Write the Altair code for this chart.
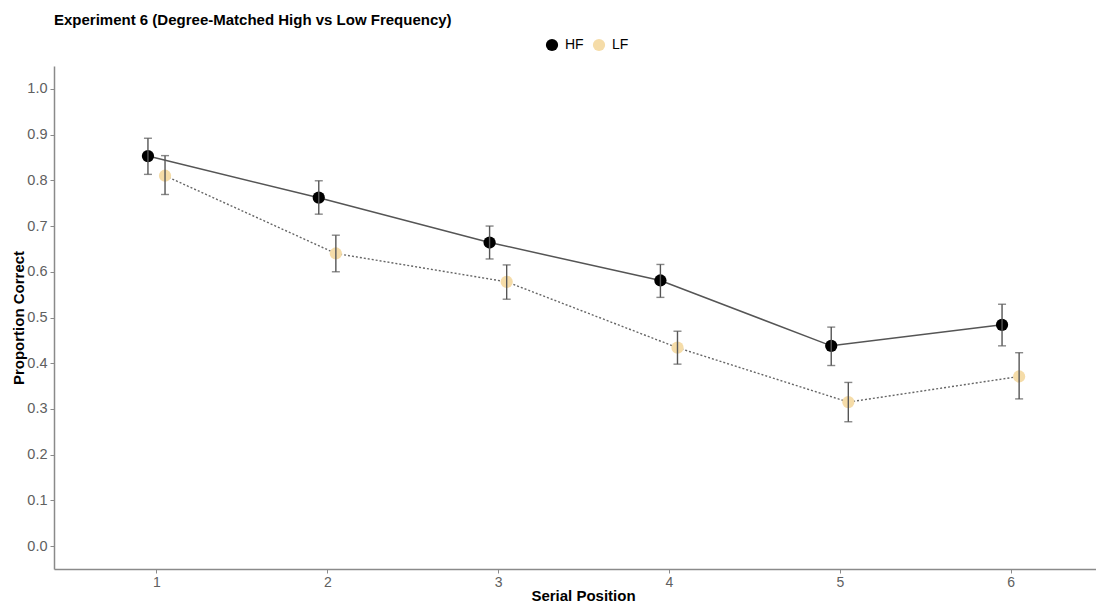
import altair as alt
import pandas as pd

positions = [1, 2, 3, 4, 5, 6]
hf_mean = [0.853, 0.762, 0.664, 0.581, 0.438, 0.484]
hf_lo = [0.813, 0.726, 0.628, 0.544, 0.395, 0.438]
hf_hi = [0.892, 0.799, 0.700, 0.616, 0.479, 0.529]
lf_mean = [0.810, 0.640, 0.578, 0.434, 0.315, 0.371]
lf_lo = [0.769, 0.600, 0.540, 0.398, 0.272, 0.322]
lf_hi = [0.854, 0.680, 0.615, 0.470, 0.358, 0.423]

rows = []
for i, p in enumerate(positions):
    rows.append({"pos": p, "cond": "HF", "mean": hf_mean[i], "lo": hf_lo[i], "hi": hf_hi[i]})
for i, p in enumerate(positions):
    rows.append({"pos": p, "cond": "LF", "mean": lf_mean[i], "lo": lf_lo[i], "hi": lf_hi[i]})
df = pd.DataFrame(rows)

FONT = "Liberation Sans"

base = alt.Chart(df).transform_calculate(
    xd="datum.pos + (datum.cond == 'HF' ? -0.05 : 0.05)"
)

xenc = alt.X(
    "xd:Q",
    scale=alt.Scale(domain=[0.4, 6.5], nice=False, zero=False),
    axis=alt.Axis(
        values=positions, format="d", title="Serial Position", grid=False,
        domainColor="#8a8a8a", domainWidth=1.5, tickColor="#8a8a8a", tickSize=4,
        labelColor="#606060", labelFontSize=14, labelFont=FONT, labelPadding=2,
        titleFont=FONT, titleFontSize=15, titleFontWeight="bold", titleColor="#000000",
        titleBaseline="alphabetic", titleX=529, titleY=31,
    ),
)
yscale = alt.Scale(domain=[-0.05, 1.05], nice=False, zero=False)
yenc = alt.Y(
    "mean:Q", scale=yscale,
    axis=alt.Axis(
        values=[0, 0.1, 0.2, 0.3, 0.4, 0.5, 0.6, 0.7, 0.8, 0.9, 1.0], format=".1f",
        title="Proportion Correct", grid=False,
        domainColor="#8a8a8a", domainWidth=1.5, tickColor="#8a8a8a", tickSize=4,
        labelColor="#606060", labelFontSize=14.5, labelFont=FONT, labelPadding=3,
        titleFont=FONT, titleFontSize=15, titleFontWeight="bold", titleColor="#000000",
        titleBaseline="alphabetic", titleX=-31, titleY=251.5,
    ),
)

line_hf = base.transform_filter("datum.cond == 'HF'").mark_line(
    strokeWidth=1.5, color="#555555"
).encode(x=xenc, y=yenc)
line_lf = base.transform_filter("datum.cond == 'LF'").mark_line(
    strokeWidth=1.4, color="#666666", strokeDash=[2, 2]
).encode(x=xenc, y=yenc)

points = base.mark_circle(size=150, opacity=1).encode(
    x=xenc, y=yenc,
    color=alt.Color(
        "cond:N",
        scale=alt.Scale(domain=["HF", "LF"], range=["#000000", "#F5DCA8"]),
        legend=alt.Legend(
            title=None, orient="none", direction="horizontal", legendX=491, legendY=-28,
            symbolType="circle", symbolSize=150, symbolStrokeWidth=0,
            labelFont=FONT, labelFontSize=14, labelColor="#000000", columnPadding=8,
            symbolOpacity=1, labelOffset=6,
        ),
    ),
)

err = base.mark_rule(color="#555555", strokeWidth=1.4).encode(
    x=xenc, y=alt.Y("lo:Q", scale=yscale), y2="hi:Q"
)
cap_lo = base.mark_tick(orient="horizontal", size=8, thickness=1.4, color="#555555").encode(
    x=xenc, y=alt.Y("lo:Q", scale=yscale)
)
cap_hi = base.mark_tick(orient="horizontal", size=8, thickness=1.4, color="#555555").encode(
    x=xenc, y=alt.Y("hi:Q", scale=yscale)
)

chart = alt.layer(line_hf, line_lf, points, err, cap_lo, cap_hi).properties(
    width=1042, height=503,
    autosize=alt.AutoSizeParams(type="none"),
    padding={"left": 46, "top": 58, "right": 0, "bottom": 42},
    title=alt.TitleParams(
        "Experiment 6 (Degree-Matched High vs Low Frequency)", anchor="start", frame="group",
        font=FONT, fontSize=15, fontWeight="bold", color="#000000", offset=10,
    ),
).configure_view(stroke=None)

chart.save("out.html", embed_options={"renderer": "svg", "actions": False})
